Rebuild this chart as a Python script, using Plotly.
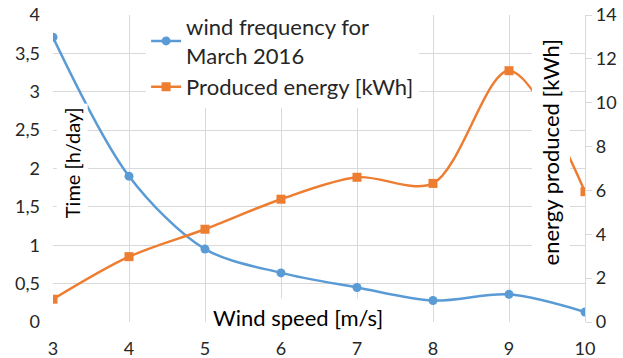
import plotly.graph_objects as go

wind_speed = [3, 4, 5, 6, 7, 8, 9, 10]
wind_frequency = [3.71, 1.9, 0.95, 0.64, 0.45, 0.28, 0.36, 0.13]
produced_energy = [1.04, 2.98, 4.23, 5.6, 6.6, 6.32, 11.46, 5.94]
left_ticks = [0, 0.5, 1, 1.5, 2, 2.5, 3, 3.5, 4]
left_labels = ["0", "0,5", "1", "1,5", "2", "2,5", "3", "3,5", "4"]
right_ticks = [0, 2, 4, 6, 8, 10, 12, 14]

BLUE = "#5B9BD5"
ORANGE = "#ED7D31"
TXT = "#262626"
GRID = "#D9D9D9"
FONT = "Lato, Open Sans, sans-serif"

fig = go.Figure()
fig.add_trace(go.Scatter(
    x=wind_speed, y=wind_frequency, name="wind frequency for<br>March 2016",
    mode="lines+markers", line=dict(color=BLUE, width=2.5, shape="spline", smoothing=0.9),
    marker=dict(symbol="circle", size=9, color=BLUE), yaxis="y"))
fig.add_trace(go.Scatter(
    x=wind_speed, y=produced_energy, name="Produced energy [kWh]",
    mode="lines+markers", line=dict(color=ORANGE, width=2.5, shape="spline", smoothing=0.9),
    marker=dict(symbol="square", size=9, color=ORANGE), yaxis="y2"))

fig.update_layout(
    width=623, height=358,
    margin=dict(l=53, r=38, t=15, b=36, autoexpand=False),
    paper_bgcolor="white", plot_bgcolor="white",
    font=dict(family=FONT, color=TXT, size=18),
    xaxis=dict(range=[3, 10], dtick=1, showgrid=True, gridcolor=GRID, gridwidth=1.3,
               zeroline=False, showline=False, ticks="", tickfont=dict(size=18),
               ticklabelstandoff=14, automargin=False),
    yaxis=dict(range=[0, 4], tickvals=left_ticks, ticktext=left_labels, showgrid=True,
               gridcolor=GRID, gridwidth=1.3, zeroline=False, showline=False, ticks="",
               tickfont=dict(size=18), ticklabelstandoff=12, automargin=False),
    yaxis2=dict(range=[0, 14], tickvals=right_ticks, overlaying="y", side="right", showgrid=False,
                zeroline=False, showline=True, linecolor=GRID, linewidth=1.3,
                ticks="outside", ticklen=6, tickcolor=GRID, tickfont=dict(size=18),
                automargin=False),
    legend=dict(x=0.175, y=1.03, xanchor="left", yanchor="top", bgcolor="white",
                font=dict(size=22, color=TXT), tracegroupgap=0, itemwidth=30),
    showlegend=True,
)

fig.add_annotation(text="Time [h/day]", xref="paper", yref="paper", x=0.036, y=0.518,
                   xanchor="center", yanchor="middle",
                   textangle=-90, showarrow=False, bgcolor="white", borderpad=3,
                   font=dict(size=20, color="black", family=FONT))
fig.add_annotation(text="energy produced [kWh]", xref="paper", yref="paper", x=0.936, y=0.552,
                   xanchor="center", yanchor="middle",
                   textangle=-90, showarrow=False, bgcolor="white", borderpad=5,
                   font=dict(size=22, color="black", family=FONT))
fig.add_annotation(text="Wind speed [m/s]", xref="paper", yref="paper", x=0.46, y=0.016,
                   xanchor="center", yanchor="middle",
                   showarrow=False, bgcolor="white", borderpad=5,
                   font=dict(size=22, color="black", family=FONT))

fig.write_html("out.html")
